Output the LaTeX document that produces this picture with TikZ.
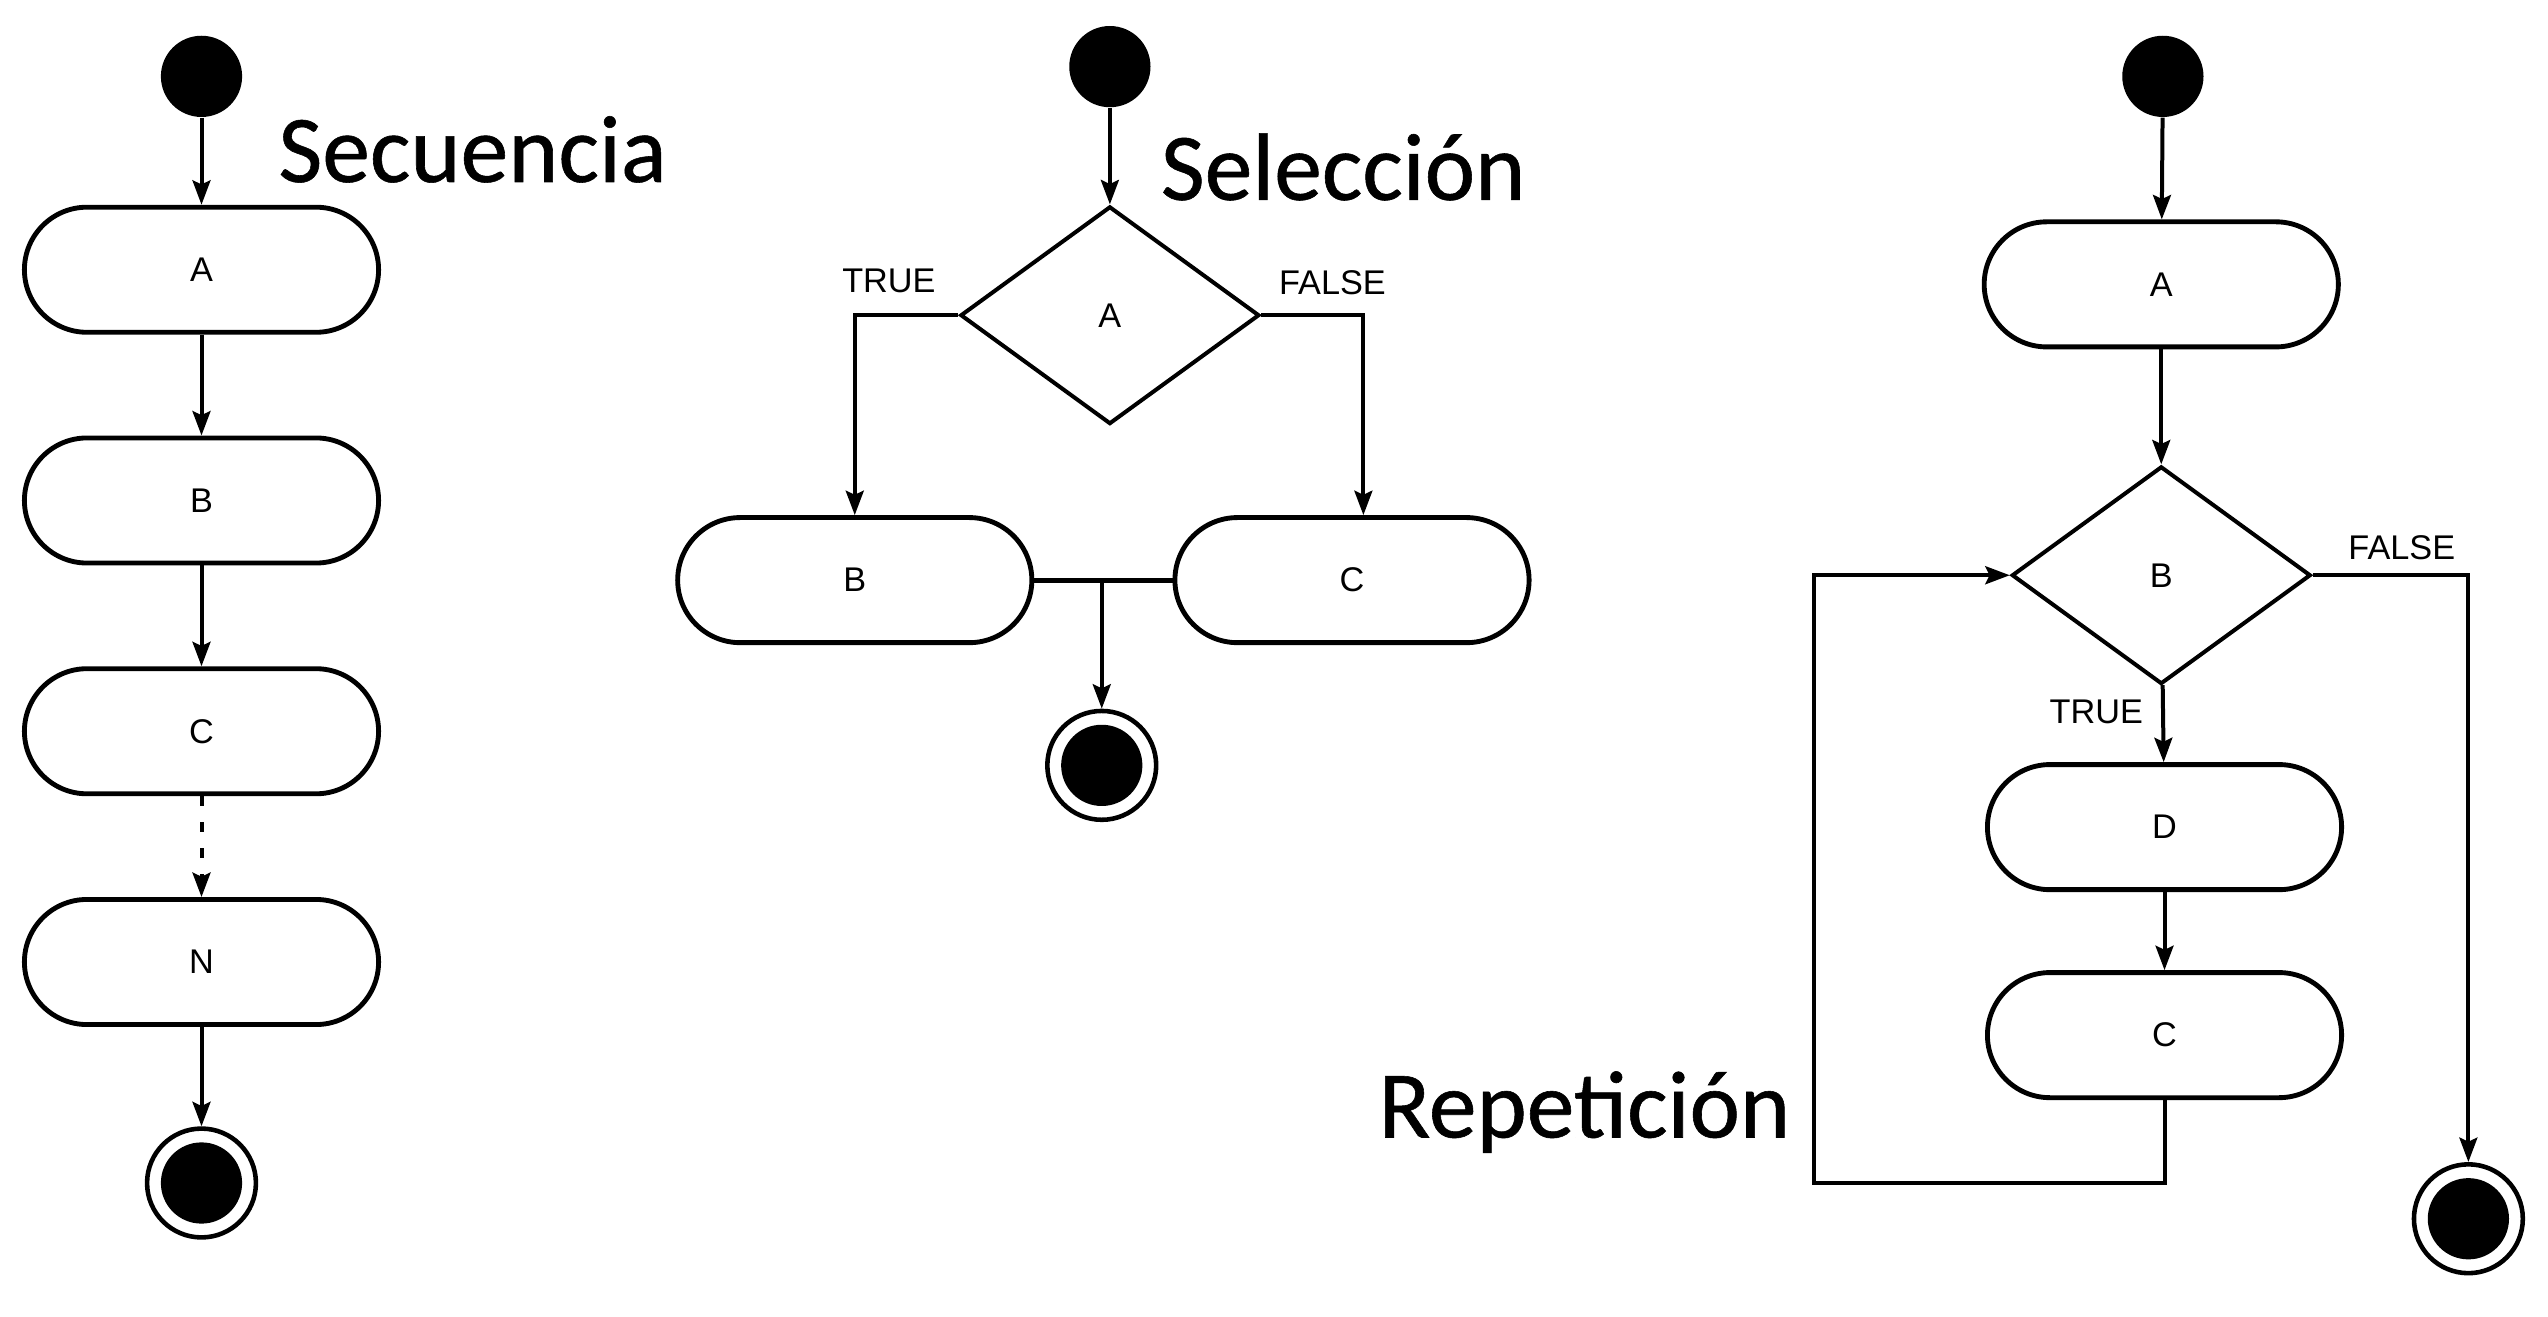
\documentclass[tikz,border=0pt]{standalone}
\usepackage{fontspec}
\setmainfont{Liberation Sans}
\newfontfamily\titulo[FakeBold=0.6]{Carlito}
\usetikzlibrary{arrows.meta,shapes.geometric}

\tikzset{
  caja/.style={draw, line width=1.7pt, rounded corners=0.77cm,
    minimum width=4.36cm, minimum height=1.54cm, inner sep=0pt},
  decision/.style={draw, diamond, line width=1.4pt,
    minimum width=3.68cm, minimum height=2.68cm, inner sep=0pt},
  inicio/.style={circle, fill=black, minimum size=1cm, inner sep=0pt},
  final/.style={circle, draw, line width=1.6pt, minimum size=1.34cm, inner sep=0pt,
    path picture={\fill (path picture bounding box.center) circle (0.5cm);}},
  flecha/.style={line width=1.4pt, arrows={-Stealth[length=0.3cm,width=0.22cm,inset=0.05cm]}},
  nombre/.style={font=\titulo\fontsize{33.5}{40}\selectfont, anchor=base west, inner sep=0pt}
}

\begin{document}
\begin{tikzpicture}[x=0.02cm, y=-0.02cm, font=\fontsize{12}{14}\selectfont]

\useasboundingbox (0,0) rectangle (1568,810);

% columnas
\def\xs{124}
\def\xm{683}
\def\xr{1331}

% ======== secuencia ========
\node[inicio] (ini1) at (\xs,47) {};
\foreach \n/\y in {A/166,B/308,C/450,N/592} {
  \node[caja] (s\n) at (\xs,\y) {\n};
}
\node[final] (fin1) at (\xs,728) {};

\draw[flecha] (ini1) -- (sA);
\draw[flecha] (sA) -- (sB);
\draw[flecha] (sB) -- (sC);
\draw[flecha, dash pattern=on 0.12cm off 0.2cm] (sC) -- (sN);
\draw[flecha] (sN) -- (fin1);

\node[nombre] (tsec) at (171,112) {Secuencia};

% ======== seleccion ========
\node[inicio] (ini2) at (\xm,41) {};
\node[decision] (dA) at (\xm,194) {A};
\node[caja] (mB) at (526,357) {B};
\node[caja] (mC) at (832,357) {C};
\node[final] (fin2) at (678,471) {};

\draw[flecha] (ini2) -- (dA);
\draw[flecha] (dA.west) -| (mB.north);
\draw[flecha] (dA.east) -| ([xshift=0.14cm]mC.north);
\draw[line width=1.7pt] (mB.east) -- (mC.west);
\draw[flecha] (mB.east -| fin2) -- (fin2);

\node (vA) at (547,173) {TRUE};
\node (fA) at (820,174) {FALSE};

\node[nombre] (tsel) at (714,123) {Selección};

% ======== repeticion ========
\node[inicio] (ini3) at (\xr,47) {};
\node[caja] (rA) at (1330,175) {A};
\node[decision] (dB) at (1330,354) {B};
\node[caja] (rD) at (1332,509) {D};
\node[caja] (rC) at (1332,637) {C};
\node[final] (fin3) at (1519,750) {};
% vuelta del ciclo
\coordinate (vuelta) at (1116,728);

\draw[flecha] (ini3) -- (rA);
\draw[flecha] (rA) -- (dB);
\draw[flecha] (dB) -- (rD);
\draw[flecha] (rD) -- (rC);
\draw[flecha] (rC.south) |- (vuelta) |- (dB.west);
\draw[flecha] (dB.east) -| (fin3.north);

\node (fB) at (1478,337) {FALSE};
\node (vB) at (1290,438) {TRUE};

\node[nombre] (trep) at (848,700) {Repetición};

\end{tikzpicture}
\end{document}
